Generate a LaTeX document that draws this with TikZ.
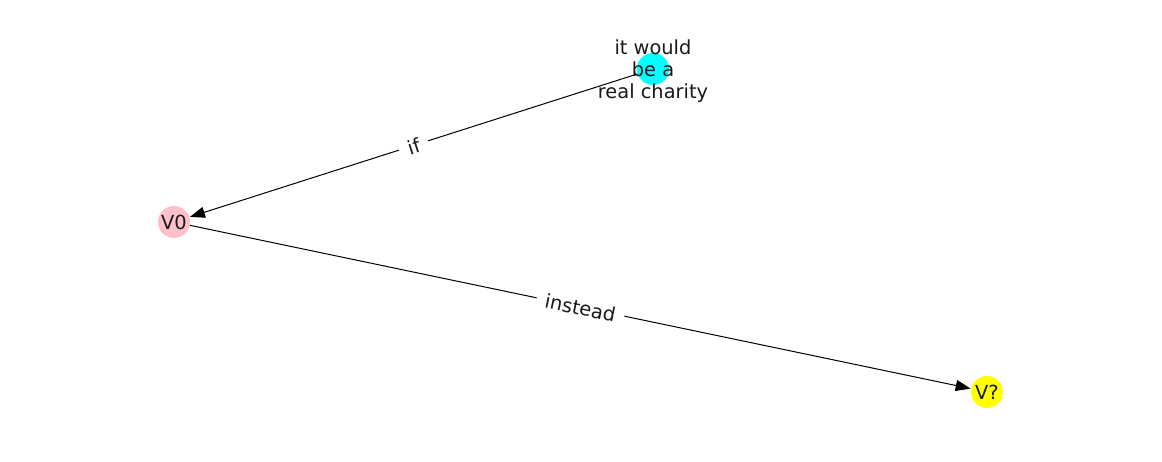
\documentclass[tikz,border=0pt]{standalone}
\usepackage{fontspec}
\setmainfont{DejaVu Sans}
\usetikzlibrary{arrows.meta}
\definecolor{ncyan}{HTML}{00FFFF}
\definecolor{npink}{HTML}{FFC0CB}
\definecolor{nyellow}{HTML}{FFFF00}
\begin{document}
\begin{tikzpicture}[x=1pt,y=1pt,
  gnode/.style={circle, minimum size=32pt, inner sep=0pt, draw=none},
  gtext/.style={font=\fontsize{19.4}{22}\selectfont, text=black!90, align=center, inner sep=0pt},
  gedge/.style={line width=1pt, -{Triangle[length=15pt,width=11pt]}, shorten >=0.5pt},
  elabel/.style={font=\fontsize{19.4}{22}\selectfont, text=black!90, fill=white, inner xsep=9pt, inner ysep=4pt, sloped, midway}
]
\useasboundingbox (0,0) rectangle (1162,462);
\node[gnode, fill=ncyan] (c) at (653,393) {};
\node[gnode, fill=npink] (v0) at (174,240) {};
\node[gnode, fill=nyellow] (vq) at (987,70) {};
\draw[gedge] (c) -- node[elabel, yshift=-1pt] {if} (v0);
\draw[gedge] (v0) -- node[elabel, yshift=-1pt] {instead} (vq);
\node[gtext, yshift=-2pt] (ct) at (c) {it would\\be a\\real charity};
\node[gtext] (v0t) at (v0) {V0};
\node[gtext] (vqt) at (vq) {V?};
\end{tikzpicture}
\end{document}
